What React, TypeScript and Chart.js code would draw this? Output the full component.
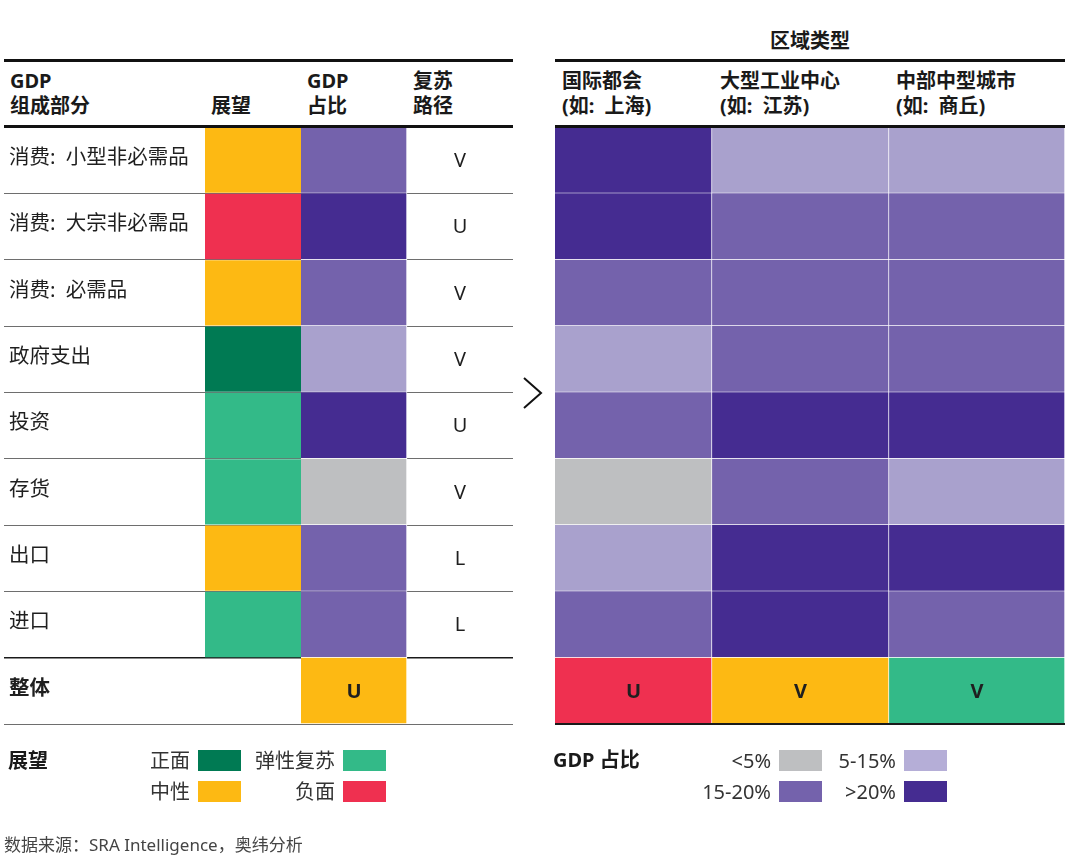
import React, { useEffect, useRef } from 'react';
import { Chart, registerables } from 'chart.js';

Chart.register(...registerables);

// ---------------- data ----------------
const COMPONENTS = ['消费:\u2002小型非必需品', '消费:\u2002大宗非必需品', '消费:\u2002必需品', '政府支出', '投资', '存货', '出口', '进口'];
const OVERALL_LABEL = '整体';
const OUTLOOK = ['neutral', 'negative', 'neutral', 'positive', 'resilient', 'resilient', 'neutral', 'resilient'];
const GDP_SHARE = ['15-20%', '>20%', '15-20%', '5-15%', '>20%', '<5%', '15-20%', '15-20%'];
const RECOVERY_PATH = ['V', 'U', 'V', 'V', 'U', 'V', 'L', 'L'];
const OVERALL_OUTLOOK = 'neutral';
const OVERALL_PATH = 'U';

const REGION_TITLE = '区域类型';
const REGIONS = ['国际都会', '大型工业中心', '中部中型城市'];
const REGION_EXAMPLES = ['上海', '江苏', '商丘'];
const SHARE_METRO = ['>20%', '>20%', '15-20%', '5-15%', '15-20%', '<5%', '5-15%', '15-20%'];
const SHARE_INDUSTRIAL = ['5-15%', '15-20%', '15-20%', '15-20%', '>20%', '15-20%', '>20%', '>20%'];
const SHARE_MIDSIZE = ['5-15%', '15-20%', '15-20%', '15-20%', '>20%', '5-15%', '>20%', '15-20%'];
const REGION_SHARES = [SHARE_METRO, SHARE_INDUSTRIAL, SHARE_MIDSIZE];
const REGION_OVERALL_OUTLOOK = ['negative', 'neutral', 'resilient'];
const REGION_OVERALL_PATH = ['U', 'V', 'V'];

const LEFT_HEADERS = [['GDP', '组成部分'], ['', '展望'], ['GDP', '占比'], ['复苏', '路径']];
const OUTLOOK_LEGEND_TITLE = '展望';
const OUTLOOK_LEGEND = [['positive', '正面'], ['resilient', '弹性复苏'], ['neutral', '中性'], ['negative', '负面']];
const SHARE_LEGEND_TITLE = 'GDP 占比';
const SHARE_LEGEND = ['<5%', '5-15%', '15-20%', '>20%'];
const SOURCE = '数据来源：SRA Intelligence，奥纬分析';

// ---------------- styles ----------------
const FONT = '"Noto Sans", "Noto Sans CJK SC", sans-serif';
const OUTLOOK_COLORS: Record<string, string> = {
  positive: '#007A53', resilient: '#33BA88', neutral: '#FDB913', negative: '#EF3050',
};
const SHARE_COLORS: Record<string, string> = {
  '<5%': '#BEBFC1', '5-15%': '#A9A1CD', '15-20%': '#7462AC', '>20%': '#452C91',
};
const SHARE_LEGEND_COLORS: Record<string, string> = {
  '<5%': '#BEBFC1', '5-15%': '#B5AED7', '15-20%': '#7462AC', '>20%': '#452C91',
};

// ---------------- layout ----------------
const CANVAS_TOP = 125;
const CANVAS_H = 601;
const LEFT_X = 4;
const LEFT_WIDTHS = [201, 96, 106, 106];
const RIGHT_X = 555;
const RIGHT_WIDTHS = [157, 177, 176];
const LEFT_HEADER_X = [10, 211, 307, 413];
const RIGHT_HEADER_X = [562, 720, 896];

const edgesOf = (w: number[]) => w.reduce((a, v) => [...a, a[a.length - 1] + v], [0] as number[]);
const sum = (w: number[]) => w.reduce((a, b) => a + b, 0);

type TextItem = { text: string; col: number; row: number; bold?: boolean; align?: 'center' | 'left' };

function textPlugin(items: TextItem[], edges: number[]) {
  return {
    id: 'cellText',
    afterDatasetsDraw(chart: any) {
      const { ctx, scales } = chart;
      const xs = scales.x;
      const ys = scales.y;
      ctx.save();
      ctx.textBaseline = 'middle';
      for (const it of items) {
        ctx.fillStyle = '#1f1f1f';
        const y = ys.getPixelForValue(it.row);
        if (it.align === 'left') {
          ctx.font = `${it.bold ? 'bold ' : ''}20.5px ${FONT}`;
          ctx.textAlign = 'left';
          ctx.fillText(it.text, xs.getPixelForValue(edges[it.col]) + 5, y - 2);
        } else {
          ctx.font = `${it.bold ? 'bold ' : ''}20px ${FONT}`;
          ctx.textAlign = 'center';
          ctx.fillText(it.text, xs.getPixelForValue((edges[it.col] + edges[it.col + 1]) / 2), y + 1);
        }
      }
      ctx.restore();
    },
  };
}

const cellBase = {
  borderColor: '#ffffff',
  borderWidth: { top: 0, left: 0, right: 1, bottom: 1 },
  borderSkipped: false as const,
  grouped: false,
  barPercentage: 1,
  categoryPercentage: 1,
};

function LeftTable() {
  const ref = useRef<HTMLCanvasElement>(null);
  useEffect(() => {
    const rows = [...COMPONENTS, OVERALL_LABEL];
    const n = COMPONENTS.length;
    const edges = edgesOf(LEFT_WIDTHS);
    const span = (c: number) => [edges[c], edges[c + 1]];
    const items: TextItem[] = [
      ...rows.map((r, i) => ({ text: r, col: 0, row: i, bold: i === n, align: 'left' as const })),
      ...RECOVERY_PATH.map((p, i) => ({ text: p, col: 3, row: i })),
      { text: OVERALL_PATH, col: 2, row: n, bold: true },
    ];
    const chart = new Chart(ref.current!, {
      type: 'bar',
      data: {
        labels: rows,
        datasets: [
          {
            ...cellBase,
            label: '展望',
            data: rows.map((_, i) => (i < n ? span(1) : null)) as any,
            backgroundColor: rows.map((_, i) => (i < n ? OUTLOOK_COLORS[OUTLOOK[i]] : 'transparent')),
            borderWidth: 0,
            barPercentage: 0.985,
          },
          {
            ...cellBase,
            label: 'GDP 占比',
            data: rows.map(() => span(2)) as any,
            backgroundColor: [...GDP_SHARE.map((s) => SHARE_COLORS[s]), OUTLOOK_COLORS[OVERALL_OUTLOOK]],
          },
        ],
      } as any,
      options: {
        indexAxis: 'y',
        responsive: false,
        animation: false,
        layout: { padding: { top: 2, bottom: 2, left: 0, right: 0 } },
        plugins: { legend: { display: false }, tooltip: { enabled: false } },
        scales: {
          x: { type: 'linear', min: 0, max: sum(LEFT_WIDTHS), display: false },
          y: {
            type: 'category',
            offset: true,
            afterFit: (s: any) => { s.width = 0; },
            border: { display: false },
            ticks: { display: false },
            grid: {
              offset: true,
              drawTicks: false,
              color: (c: any) => (c.index === 0 ? 'transparent' : c.index >= n ? '#1a1a1a' : '#6e6e6e'),
              lineWidth: (c: any) => (c.index >= n ? 1.5 : 1),
            },
          },
        },
      } as any,
      plugins: [textPlugin(items, edges)],
    });
    return () => chart.destroy();
  }, []);
  return (
    <canvas
      ref={ref}
      width={sum(LEFT_WIDTHS)}
      height={CANVAS_H}
      style={{ position: 'absolute', left: LEFT_X, top: CANVAS_TOP, display: 'block' }}
    />
  );
}

function RightTable() {
  const ref = useRef<HTMLCanvasElement>(null);
  useEffect(() => {
    const rows = [...COMPONENTS, OVERALL_LABEL];
    const n = COMPONENTS.length;
    const edges = edgesOf(RIGHT_WIDTHS);
    const items: TextItem[] = REGION_OVERALL_PATH.map((p, c) => ({ text: p, col: c, row: n, bold: true }));
    const chart = new Chart(ref.current!, {
      type: 'bar',
      data: {
        labels: rows,
        datasets: REGIONS.map((name, c) => ({
          ...cellBase,
          label: name,
          data: rows.map(() => [edges[c], edges[c + 1]]) as any,
          backgroundColor: [...REGION_SHARES[c].map((s) => SHARE_COLORS[s]), OUTLOOK_COLORS[REGION_OVERALL_OUTLOOK[c]]],
        })),
      } as any,
      options: {
        indexAxis: 'y',
        responsive: false,
        animation: false,
        layout: { padding: { top: 2, bottom: 2, left: 0, right: 0 } },
        plugins: { legend: { display: false }, tooltip: { enabled: false } },
        scales: {
          x: { type: 'linear', min: 0, max: sum(RIGHT_WIDTHS), display: false },
          y: { type: 'category', offset: true, display: false },
        },
      } as any,
      plugins: [textPlugin(items, edges)],
    });
    return () => chart.destroy();
  }, []);
  return (
    <canvas
      ref={ref}
      width={sum(RIGHT_WIDTHS)}
      height={CANVAS_H}
      style={{ position: 'absolute', left: RIGHT_X, top: CANVAS_TOP, display: 'block' }}
    />
  );
}

const headStyle: React.CSSProperties = {
  position: 'absolute',
  fontFamily: FONT,
  fontWeight: 700,
  fontSize: 20,
  lineHeight: '25px',
  color: '#1a1a1a',
  whiteSpace: 'pre',
};

function Rule({ x, y, w, h, c = '#111' }: { x: number; y: number; w: number; h: number; c?: string }) {
  return <div style={{ position: 'absolute', left: x, top: y, width: w, height: h, background: c }} />;
}

function LegendItem({ label, color, textEnd, top }: { label: string; color: string; textEnd: number; top: number }) {
  return (
    <>
      <div
        style={{
          position: 'absolute', right: 1080 - textEnd, top, height: 21, lineHeight: '21px',
          fontFamily: FONT, fontSize: 20, color: '#333', whiteSpace: 'pre',
        }}
      >
        {label}
      </div>
      <div style={{ position: 'absolute', left: textEnd + 8, top, width: 43, height: 21, background: color }} />
    </>
  );
}

export default function App() {
  const leftW = sum(LEFT_WIDTHS);
  const rightW = sum(RIGHT_WIDTHS);
  return (
    <div style={{ position: 'absolute', left: 0, top: 0, width: 1080, height: 862, background: '#fff', overflow: 'hidden' }}>
      <LeftTable />
      <RightTable />

      {/* title */}
      <div style={{ ...headStyle, left: RIGHT_X, width: rightW, top: 28, textAlign: 'center' }}>{REGION_TITLE}</div>

      {/* rules */}
      <Rule x={LEFT_X} y={59} w={leftW} h={3} />
      <Rule x={RIGHT_X} y={59} w={rightW} h={3} />
      <Rule x={LEFT_X} y={125} w={leftW} h={3} />
      <Rule x={RIGHT_X} y={125} w={rightW} h={3} />
      <Rule x={RIGHT_X} y={723} w={rightW} h={1.5} c="#1a1a1a" />

      {/* headers */}
      {LEFT_HEADERS.map((lines, i) => (
        <div key={'lh' + i} style={{ ...headStyle, left: LEFT_HEADER_X[i], top: 68 }}>
          {lines.join('\n')}
        </div>
      ))}
      {REGIONS.map((r, i) => (
        <div key={'rh' + i} style={{ ...headStyle, left: RIGHT_HEADER_X[i], top: 68 }}>
          {r + '\n(如:\u2002' + REGION_EXAMPLES[i] + ')'}
        </div>
      ))}

      {/* arrow */}
      <svg style={{ position: 'absolute', left: 0, top: 0 }} width={1080} height={862}>
        <polyline points="524,378 541,393 524,408" fill="none" stroke="#111" strokeWidth={2} />
      </svg>

      {/* legends */}
      <div style={{ ...headStyle, left: 8, top: 748 }}>{OUTLOOK_LEGEND_TITLE}</div>
      {OUTLOOK_LEGEND.map(([k, name], i) => (
        <LegendItem
          key={'ol' + k}
          label={name}
          color={OUTLOOK_COLORS[k]}
          textEnd={i % 2 === 0 ? 190 : 335}
          top={i < 2 ? 750 : 781}
        />
      ))}
      <div style={{ ...headStyle, left: 553, top: 747 }}>{SHARE_LEGEND_TITLE}</div>
      {SHARE_LEGEND.map((k, i) => (
        <LegendItem
          key={'sl' + k}
          label={k}
          color={SHARE_LEGEND_COLORS[k]}
          textEnd={i % 2 === 0 ? 771 : 896}
          top={i < 2 ? 750 : 781}
        />
      ))}

      {/* source */}
      <div
        style={{
          position: 'absolute', left: 4, top: 833, fontFamily: FONT, fontSize: 17,
          lineHeight: '24px', color: '#444', whiteSpace: 'pre',
        }}
      >
        {SOURCE}
      </div>
    </div>
  );
}
